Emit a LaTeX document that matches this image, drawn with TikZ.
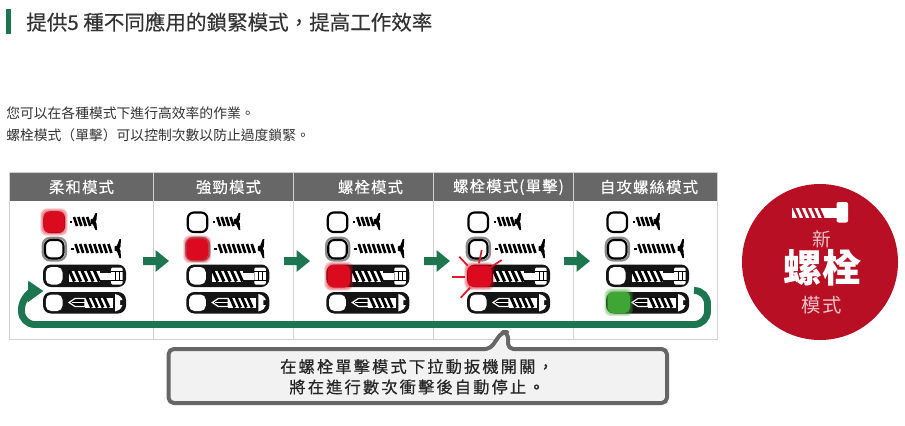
\documentclass[tikz,border=0pt]{standalone}
\usepackage{fontspec}
\setmainfont{Noto Sans CJK TC}
\newfontfamily\cjktitle[FakeBold=0.35]{Noto Sans CJK TC}
\newfontfamily\cjkhead[LetterSpace=7,FakeBold=0.25]{Noto Sans CJK TC}
\newfontfamily\cjkcall[LetterSpace=13,FakeBold=0.5]{Noto Sans CJK TC}
\newfontfamily\cjkwide[LetterSpace=8]{Noto Sans CJK TC}
\definecolor{brandgreen}{HTML}{1E7650}
\definecolor{bandgray}{HTML}{676767}
\definecolor{ruleg}{HTML}{D0D0D0}
\definecolor{ledred}{HTML}{DC0A1E}
\definecolor{burstred}{HTML}{E8142A}
\definecolor{ledgreen}{HTML}{3FA535}
\definecolor{discred}{HTML}{B90F24}
\definecolor{inktext}{HTML}{333333}
\definecolor{pale}{HTML}{EBC4C9}
\tikzset{
  x=0.75pt,y=-0.75pt,
  ledbox/.style={draw=black,fill=white,line width=1.6pt,rounded corners=4.5pt},
  halo/.style={draw=gray!90,line width=1.6pt,rounded corners=5.5pt},
  barbox/.style={fill=black!92,rounded corners=6pt},
  whitebox/.style={fill=white,rounded corners=4pt},
  headtext/.style={text=white,font=\cjkhead\fontsize{11.6pt}{13pt}\selectfont,anchor=center,inner sep=0pt},
  flowline/.style={draw=brandgreen,line width=5.2pt,rounded corners=10pt},
  burst/.style={draw=burstred,line width=1.3pt},
  callout/.style={draw=black!60,fill=black!5,line width=3pt,rounded corners=4pt,line join=round},
}
\newcommand\hatch[7]{% x0, step, count-1, y, halfheight, lean, style
  \foreach \i in {0,...,#3}{\draw[#7] ({#1+\i*#2},{#4-#5}) -- ({#1+\i*#2+#6},{#4+#5});}}
\newcommand\screwhead[3]{% x, y, half-height
  \fill[black] (#1,{#2-2}) -- ({#1+2.5},{#2-3}) -- ({#1+5},{#2-#3}) -- ({#1+6.5},{#2-#3}) -- ({#1+6},{#2-2}) -- ({#1+5},#2) -- ({#1+6},{#2+2}) -- ({#1+6.5},{#2+#3}) -- ({#1+5},{#2+#3}) -- ({#1+2.5},{#2+3}) -- (#1,{#2+2}) -- cycle;}
\newcommand\iconset[1]{%
  \begin{scope}[shift={(#1,0)}]
    % row 1
    \draw[ledbox] (44.5,212.5) rectangle (64,232);
    \fill[black] (69.5,220.5) rectangle (72,222.5);
    \hatch{74}{4.4}{3}{221.5}{4.5}{3}{line width=2pt,black}
    \screwhead{90.5}{221.5}{8.5}
    % row 2
    \draw[halo] (42.8,237.8) rectangle (66,260.5);
    \draw[ledbox] (45,240) rectangle (63.5,258.5);
    \fill[black] (71,247.5) rectangle (73.5,249.5);
    \hatch{75.5}{4.7}{7}{248.5}{4.5}{3}{line width=2pt,black}
    \screwhead{114.5}{248.5}{9.5}
    % row 3
    \fill[barbox] (43,264.5) rectangle (126,287);
    \fill[whitebox] (45.8,267) rectangle (62.5,284.5);
    \fill[white] (68.5,270.5) rectangle (100,281.5);
    \fill[white] (100,272.5) rectangle (111,279.5);
    \hatch{69.5}{6.2}{4}{276}{5.5}{5}{line width=2.3pt,black}
    \fill[white,rounded corners=1pt] (111,267.5) rectangle (122.5,284.5);
    \draw[black,line width=.75pt] (111,271.5) -- (122.5,271.5) (111,280.5) -- (122.5,280.5) (115,271.5) -- (115,280.5) (119.5,271.5) -- (119.5,280.5);
    % row 4
    \fill[barbox] (43,292) rectangle (126,313.5);
    \fill[whitebox] (45.8,294.5) rectangle (62.5,311);
    \draw[white,line width=.9pt,fill=black] (69,302.5) -- (75,298.5) -- (85,298.5) -- (85,306.5) -- (75,306.5) -- cycle;
    \draw[white,line width=.7pt] (72,302.5) -- (85,302.5);
    \fill[white] (85,297.5) rectangle (112.5,307.5);
    \hatch{87}{5.8}{3}{302.5}{5}{4.5}{line width=2.2pt,black}
    \fill[white] (115,294) .. controls (120,295) and (122,298) .. (122.5,300) -- (120,300) -- (120,305) -- (122.5,305) .. controls (122,308) and (120,310) .. (115,311.5) -- cycle;
  \end{scope}}
\newcommand\lit[5]{% x0 y0 x1 y1 colour
  \foreach \g in {3.2,2.2,1.2}{\fill[#5,opacity=.22,rounded corners=5pt] ({#1-\g},{#2-\g}) rectangle ({#3+\g},{#4+\g});}
  \fill[#5,rounded corners=4pt] (#1,#2) rectangle (#3,#4);}
\newcommand\blockarrow[1]{%
  \fill[brandgreen] (#1,257) -- ({#1+12.5},257) -- ({#1+12.5},250) -- ({#1+26},261) -- ({#1+12.5},272) -- ({#1+12.5},265) -- (#1,265) -- cycle;}
\begin{document}
\begin{tikzpicture}
\useasboundingbox (0,0) rectangle (905,425);
\fill[white] (0,0) rectangle (905,425);
% title
\fill[brandgreen] (6,9) rectangle (11,34);
\node[anchor=west,inner sep=0pt,text=inktext,font=\cjktitle\fontsize{15.4pt}{17pt}\selectfont] (title) at (26,22) {提供5 種不同應用的鎖緊模式，提高工作效率};
\node[anchor=west,inner sep=0pt,text=inktext,font=\fontsize{10.35pt}{12pt}\selectfont] (line1) at (6,113) {您可以在各種模式下進行高效率的作業。};
\node[anchor=west,inner sep=0pt,text=inktext,font=\fontsize{10.35pt}{12pt}\selectfont] (line2) at (6,135) {螺栓模式（單擊）可以控制次數以防止過度鎖緊。};
% table
\fill[bandgray] (9,172) rectangle (717,201);
\draw[ruleg,line width=.7pt] (9,172) rectangle (717,339.5);
\foreach \c in {153.5,293.5,433.5,573.5}{\draw[ruleg,line width=.6pt] (\c,172) -- (\c,339.5);}
\node[headtext] (h1) at (81.5,187) {柔和模式};
\node[headtext] (h2) at (228.5,187) {強勁模式};
\node[headtext] (h3) at (370.5,187) {螺栓模式};
\node[headtext] (h4) at (508.5,187) {螺栓模式(單擊)};
\node[headtext] (h5) at (649,187) {自攻螺絲模式};
% icons
\iconset{0}\iconset{143.3}\iconset{283.3}\iconset{424}\iconset{563}
\lit{43.5}{211.5}{64.5}{232.5}{ledred}
\lit{186.5}{238.5}{208}{260}{ledred}
\lit{327.5}{265}{350}{287.5}{ledred}
\foreach \a/\b/\c/\d in {481.7/250/479/263.3,459.3/256.7/467.7/265.7,451.7/277.3/465/277.3,460.7/297.7/470/287.7,501.7/260/490/267.7}{\draw[burst] (\a,\b) -- (\c,\d);}
\lit{467.5}{265.5}{491.5}{287}{ledred}
\lit{607.5}{291.5}{630}{313}{ledgreen}
% arrows
\blockarrow{143}\blockarrow{284}\blockarrow{424}\blockarrow{564}
% loop
\coordinate (loopstart) at (695,290.5);
\draw[flowline] (loopstart) -- (707.5,290.5) -- (707.5,324.5) -- (21.5,324.5) -- (21.5,296) -- (30,292);
\fill[brandgreen] (28.3,280.7) -- (43.3,291) -- (27.5,302.5) -- cycle;
% callout
\draw[callout] (168.5,349) -- (490,349) -- (502,332) -- (508,332) -- (508,349) -- (667,349) -- (667,403) -- (168.5,403) -- cycle;
\node[inner sep=0pt,text=black!85,font=\cjkcall\fontsize{12.2pt}{15pt}\selectfont] (c1) at (417,366.5) {在螺栓單擊模式下拉動扳機開關，};
\node[inner sep=0pt,text=black!85,font=\cjkcall\fontsize{12.2pt}{15pt}\selectfont] (c2) at (417,387) {將在進行數次衝擊後自動停止。};
% disc
\fill[discred] (820,262) circle (78);
\fill[white] (792,208) rectangle (838,218);
\hatch{794}{6.2}{4}{213}{5}{4.5}{line width=1.9pt,discred}
\fill[white,rounded corners=1.5pt] (836.5,202) rectangle (848,222.5);
\node[text=pale,inner sep=0pt,font=\fontsize{14pt}{16pt}\selectfont] (d1) at (822,239) {新};
\node[text=white,inner sep=0pt,font=\bfseries\fontsize{29pt}{32pt}\selectfont] (d2) at (822,268) {螺栓};
\node[text=pale,inner sep=0pt,font=\cjkwide\fontsize{14.5pt}{16pt}\selectfont] (d3) at (822,305) {模式};
\end{tikzpicture}
\end{document}
